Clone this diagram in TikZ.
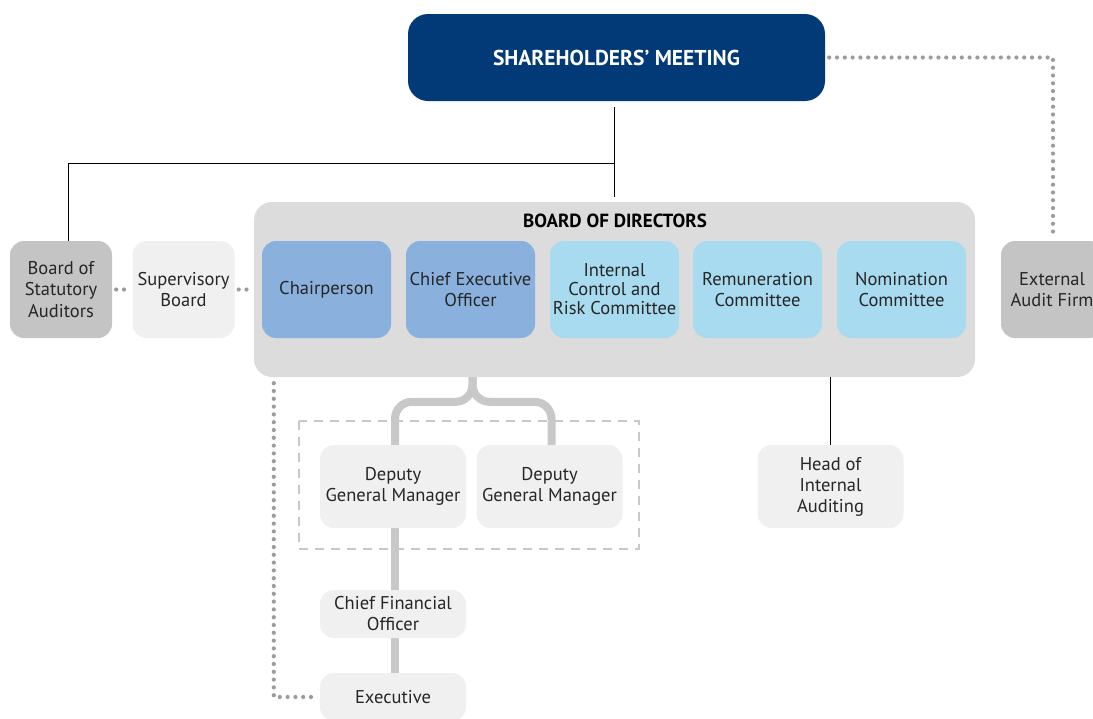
\documentclass[tikz,border=0pt]{standalone}
\usepackage{fontspec}
\setmainfont{PT Sans}
\usetikzlibrary{positioning,calc,backgrounds}

\definecolor{meetblue}{HTML}{013A77}
\definecolor{boardgray}{HTML}{DCDCDC}
\definecolor{execblue}{HTML}{8AB1DD}
\definecolor{commblue}{HTML}{A8DAF0}
\definecolor{auditgray}{HTML}{C4C4C4}
\definecolor{palegray}{HTML}{F0F0F0}
\definecolor{trunkgray}{HTML}{C8C8C8}
\definecolor{dotgray}{HTML}{9C9C9C}
\definecolor{inkgray}{HTML}{262626}

\tikzset{
  box/.style={rounded corners=14pt, align=center, inner sep=0pt, text=inkgray,
    font=\fontsize{18.5}{20.5}\selectfont, minimum height=97pt},
  execbox/.style={box, fill=execblue, minimum width=129pt},
  commbox/.style={box, fill=commblue, minimum width=129pt},
  auditbox/.style={box, fill=auditgray, minimum width=102pt, font=\fontsize{18.5}{21.5}\selectfont},
  palebox/.style={box, fill=palegray, minimum width=146pt, minimum height=83pt, font=\fontsize{18.5}{21}\selectfont},
  smallbox/.style={palebox, minimum height=48pt},
  dotline/.style={dotgray, line width=4.2pt, line cap=round, dash pattern=on 0pt off 7.8pt},
  trunk/.style={trunkgray, line width=8pt},
  groupdash/.style={trunkgray, line width=2.5pt, dash pattern=on 9pt off 7pt},
}

\begin{document}
\begin{tikzpicture}[x=1pt,y=-1pt]
  \useasboundingbox (0,0) rectangle (1093,718);

  % top of the structure
  \node[box, fill=meetblue, text=white, minimum width=417pt, minimum height=87pt,
    rounded corners=20pt, font=\fontsize{21.5}{24}\selectfont\bfseries] (meet) at (616.5,57.5) {SHAREHOLDERS’ MEETING};

  % board of directors
  \node[box, fill=boardgray, minimum width=721pt, minimum height=175pt, rounded corners=18pt] (board) at (614.5,289.5) {};
  \node[font=\fontsize{19}{21}\selectfont\bfseries, text=black, inner sep=0pt] (boardtitle) at (615,221) {BOARD OF DIRECTORS};
  \node[execbox] (chair) at (326.5,289.5) {Chairperson};
  \node[execbox] (ceo) at (470.5,289.5) {Chief Executive\\Officer};
  \node[commbox, font=\fontsize{18.5}{19}\selectfont] (risk) at (614.5,289.5) {Internal\\Control and\\Risk Committee};
  \node[commbox] (remun) at (757.5,289.5) {Remuneration\\Committee};
  \node[commbox] (nomin) at (901.5,289.5) {Nomination\\Committee};

  % control bodies
  \node[auditbox] (statut) at (61,289.5) {Board of\\Statutory\\Auditors};
  \node[auditbox, fill=palegray] (superv) at (183.5,289.5) {Supervisory\\Board};
  \node[auditbox] (extaudit) at (1052,289.5) {External\\Audit Firm};

  % management
  \node[palebox] (dgmA) at (393,486.5) {Deputy\\General Manager};
  \node[palebox] (dgmB) at (549.5,486.5) {Deputy\\General Manager};
  \node[palebox] (headaudit) at (830.5,486.5) {Head of\\Internal\\Auditing};
  \node[smallbox] (cfo) at (393,614) {Chief Financial\\Officer};
  \node[smallbox] (exec) at (393,697) {Executive};

  \draw[groupdash] (299,421) rectangle (639,549);

  % solid links
  \coordinate (split) at (614,163);
  \draw[line width=0.8pt, shorten <=6pt, shorten >=5pt] (meet.south -| split) -- (board.north -| split);
  \draw[line width=0.8pt] (split) -| ($(statut.north)+(7,0)$);
  \draw[line width=0.8pt] (headaudit.north |- board.south) -- (headaudit.north);

  \begin{scope}[on background layer]
    \coordinate (stem) at ($(ceo.south)+(2,15)$);
    \draw[trunk, rounded corners=17pt] (stem) |- ($(dgmA.north)+(2,-43)$) -- ($(dgmA.north)+(2,0)$);
    \draw[trunk, rounded corners=17pt] (stem) |- ($(dgmB.north)+(2,-43)$) -- ($(dgmB.north)+(2,0)$);
    \draw[trunk] ($(dgmA.south)+(2,0)$) -- ($(cfo.north)+(2,0)$);
    \draw[trunk] ($(cfo.south)+(2,0)$) -- ($(exec.north)+(2,0)$);
  \end{scope}

  % dotted links
  \draw[dotline] ($(meet.east)+(4,0)$) -| ($(extaudit.north)+(1,-4)$);
  \draw[dotline] ($(statut.east)+(4,0)$) -- ($(superv.west)+(-3,0)$);
  \draw[dotline] ($(superv.east)+(4,0)$) -- ($(board.west)+(-3,0)$);
  \draw[dotline] ($(board.south west)+(20,6)$) |- ($(exec.west)+(-4,0)$);
\end{tikzpicture}
\end{document}
